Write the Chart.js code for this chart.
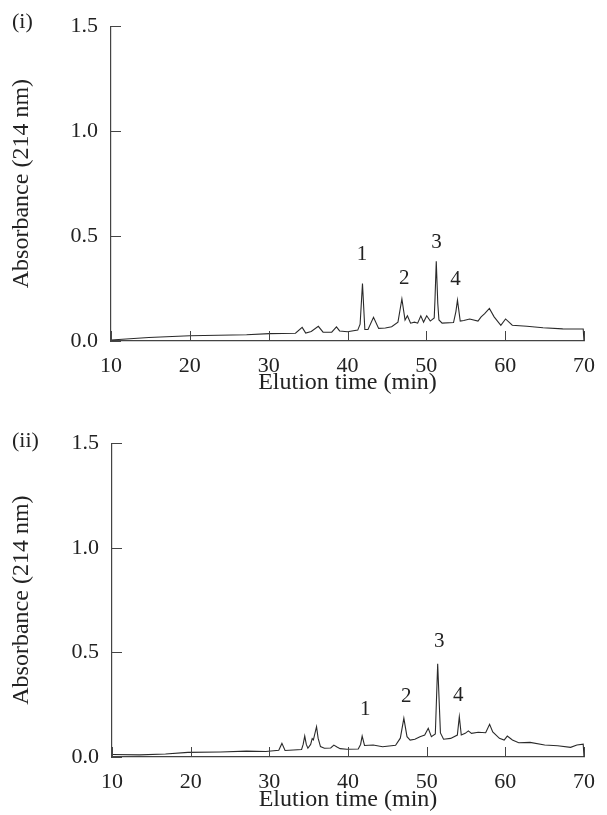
<!DOCTYPE html>
<html>
<head>
<meta charset="utf-8">
<script src="https://cdn.jsdelivr.net/npm/chart.js@4"></script>
<style>
  body { margin: 0; background: #fff; }
  #wrap { position: relative; width: 607px; height: 815px; overflow: hidden; }
  .box { position: absolute; left: 0; width: 607px; }
  .panel { position: absolute; font-family: 'Liberation Serif', serif; font-size: 22px; color: #222; }
</style>
</head>
<body>
<div id="wrap">
  <div class="box" style="top:0;height:400px"><canvas id="chart1"></canvas></div>
  <div class="box" style="top:417px;height:398px"><canvas id="chart2"></canvas></div>
  <div class="panel" style="left:12px;top:8px">(i)</div>
  <div class="panel" style="left:12px;top:427px">(ii)</div>
</div>
<script>
// Elution profiles (time in min, absorbance at 214 nm)
const times1 = [10.0, 14.8, 20.0, 27.2, 30.1, 33.4, 34.25, 34.7, 35.4, 36.3, 36.9, 38.0, 38.6, 39.0, 40.0, 41.3, 41.6, 41.9, 42.2, 42.6,
    43.3, 43.95, 44.8, 45.6, 46.4, 46.9, 47.3, 47.6, 48.0, 48.5, 48.9, 49.3, 49.65, 50.05, 50.5, 51.0, 51.1, 51.26, 51.45, 51.6,
    52.0, 53.45, 53.75, 53.95, 54.3, 54.75, 55.5, 56.55, 56.95, 57.4, 58.0, 58.6, 59.45, 60.05, 60.9, 62.75, 64.8, 67.3, 69.9, 70.0];
const abs1 = [0.005, 0.017, 0.025, 0.03, 0.035, 0.037, 0.065, 0.038, 0.045, 0.07, 0.042, 0.042, 0.067, 0.048, 0.044, 0.052, 0.08, 0.274, 0.055, 0.055,
    0.113, 0.06, 0.062, 0.068, 0.09, 0.2, 0.10, 0.12, 0.085, 0.09, 0.085, 0.12, 0.09, 0.12, 0.095, 0.11, 0.2, 0.38, 0.18, 0.10,
    0.085, 0.088, 0.14, 0.195, 0.095, 0.098, 0.105, 0.095, 0.115, 0.13, 0.155, 0.115, 0.075, 0.105, 0.075, 0.07, 0.063, 0.058, 0.057, 0.0];

const times2 = [10.0, 13.5, 16.8, 19.65, 23.8, 27.1, 29.55, 31.2, 31.6, 32.0, 34.1, 34.3, 34.5, 34.7, 34.9, 35.25, 35.45, 35.6, 36.0, 36.2,
    36.5, 37.0, 37.8, 38.2, 38.6, 39.0, 39.85, 41.3, 41.6, 41.8, 42.1, 43.2, 44.4, 46.05, 46.65, 47.1, 47.5, 47.9, 48.5, 49.15,
    49.75, 50.2, 50.6, 51.1, 51.4, 51.75, 52.15, 53.05, 53.9, 54.15, 54.4, 54.9, 55.3, 55.7, 56.55, 57.5, 58.0, 58.4, 59.25, 59.85,
    60.25, 60.9, 61.7, 63.15, 65.0, 66.65, 68.3, 69.1, 69.9, 70.0];
const abs2 = [0.012, 0.01, 0.014, 0.022, 0.024, 0.028, 0.026, 0.032, 0.065, 0.031, 0.036, 0.06, 0.1, 0.06, 0.042, 0.06, 0.088, 0.082, 0.145, 0.09,
    0.05, 0.042, 0.043, 0.057, 0.048, 0.04, 0.037, 0.038, 0.06, 0.1, 0.055, 0.057, 0.049, 0.056, 0.09, 0.185, 0.097, 0.081, 0.085, 0.097,
    0.105, 0.137, 0.097, 0.11, 0.446, 0.115, 0.085, 0.089, 0.105, 0.193, 0.105, 0.113, 0.125, 0.113, 0.118, 0.116, 0.156, 0.12, 0.089, 0.081,
    0.1, 0.081, 0.068, 0.07, 0.057, 0.054, 0.046, 0.057, 0.061, 0.0];

// Peak numbers and where they sit (data units)
const peakLabels = ['1', '2', '3', '4'];
const peakX1 = [41.85, 47.2, 51.3, 53.7];
const peakY1 = [0.41, 0.30, 0.47, 0.295];
const peakX2 = [42.2, 47.4, 51.6, 54.0];
const peakY2 = [0.225, 0.29, 0.55, 0.296];

const xTicks = [10, 20, 30, 40, 50, 60, 70];
const yTicks = [0.0, 0.5, 1.0, 1.5];

const serif = "'Liberation Serif', 'Times New Roman', serif";
const inkColor = '#222';
const axisColor = '#444';

// draws tick marks pointing into the plot, plus the peak numbers
const innerTicks = {
    id: 'innerTicks',
    afterDatasetsDraw(chart, args, opts) {
        const ctx = chart.ctx;
        const xs = chart.scales.x, ys = chart.scales.y;
        const area = chart.chartArea;
        ctx.save();
        ctx.strokeStyle = axisColor;
        ctx.lineWidth = 1;
        ctx.beginPath();
        xTicks.forEach(function(v) {
            const px = Math.round(xs.getPixelForValue(v)) + 0.5;
            ctx.moveTo(px, area.bottom);
            ctx.lineTo(px, area.bottom - 10);
        });
        yTicks.forEach(function(v) {
            const py = Math.round(ys.getPixelForValue(v)) + 0.5;
            ctx.moveTo(area.left, py);
            ctx.lineTo(area.left + 10, py);
        });
        ctx.stroke();

        ctx.fillStyle = inkColor;
        ctx.font = '21px ' + serif;
        ctx.textAlign = 'center';
        ctx.textBaseline = 'middle';
        peakLabels.forEach(function(t, i) {
            ctx.fillText(t, xs.getPixelForValue(opts.px[i]), ys.getPixelForValue(opts.py[i]));
        });
        ctx.restore();
    }
};

function makeChart(id, times, values, px, py, dims) {
    const ctx = document.getElementById(id);
    return new Chart(ctx, {
        type: 'line',
        data: {
            datasets: [{
                data: times.map((t, i) => ({ x: t, y: values[i] })),
                borderColor: '#2a2a2a',
                borderWidth: 1.1,
                pointRadius: 0,
                tension: 0,
                fill: false
            }]
        },
        options: {
            responsive: true,
            maintainAspectRatio: false,
            animation: false,
            events: [],
            layout: {
                padding: { left: 0, right: dims.right, top: dims.top, bottom: 0 }
            },
            plugins: {
                legend: { display: false },
                tooltip: { enabled: false },
                innerTicks: { px: px, py: py }
            },
            scales: {
                x: {
                    type: 'linear',
                    min: 10,
                    max: 70,
                    afterFit: function(scale) { scale.height = dims.xHeight; },
                    afterBuildTicks: function(scale) { scale.ticks = xTicks.map(v => ({ value: v })); },
                    grid: { display: false, drawTicks: false },
                    border: { display: true, color: axisColor, width: 1.2 },
                    ticks: {
                        color: inkColor,
                        padding: 12,
                        font: { family: serif, size: 22 }
                    },
                    title: {
                        display: true,
                        text: 'Elution time (min)',
                        color: inkColor,
                        padding: { top: 0, bottom: dims.titleBottom },
                        font: { family: serif, size: 24, lineHeight: 1 }
                    }
                },
                y: {
                    min: 0,
                    max: 1.5,
                    afterFit: function(scale) { scale.width = dims.yWidth; },
                    afterBuildTicks: function(scale) { scale.ticks = yTicks.map(v => ({ value: v })); },
                    grid: { display: false, drawTicks: false },
                    border: { display: true, color: axisColor, width: 1.2 },
                    ticks: {
                        color: inkColor,
                        padding: 13,
                        font: { family: serif, size: 22 },
                        callback: function(value) {
                            return value.toFixed(1);
                        }
                    },
                    title: {
                        display: true,
                        text: 'Absorbance (214 nm)',
                        color: inkColor,
                        padding: { top: 10, bottom: 0 },
                        font: { family: serif, size: 24, lineHeight: 1 }
                    }
                }
            }
        },
        plugins: [innerTicks]
    });
}

document.fonts.load('20px "Liberation Serif"').finally(function() {
    makeChart('chart1', times1, abs1, peakX1, peakY1, { top: 25, right: 12, xHeight: 59, yWidth: 111, titleBottom: 5 });
    makeChart('chart2', times2, abs2, peakX2, peakY2, { top: 26, right: 10, xHeight: 58, yWidth: 112, titleBottom: 3 });
});
</script>
</body>
</html>
